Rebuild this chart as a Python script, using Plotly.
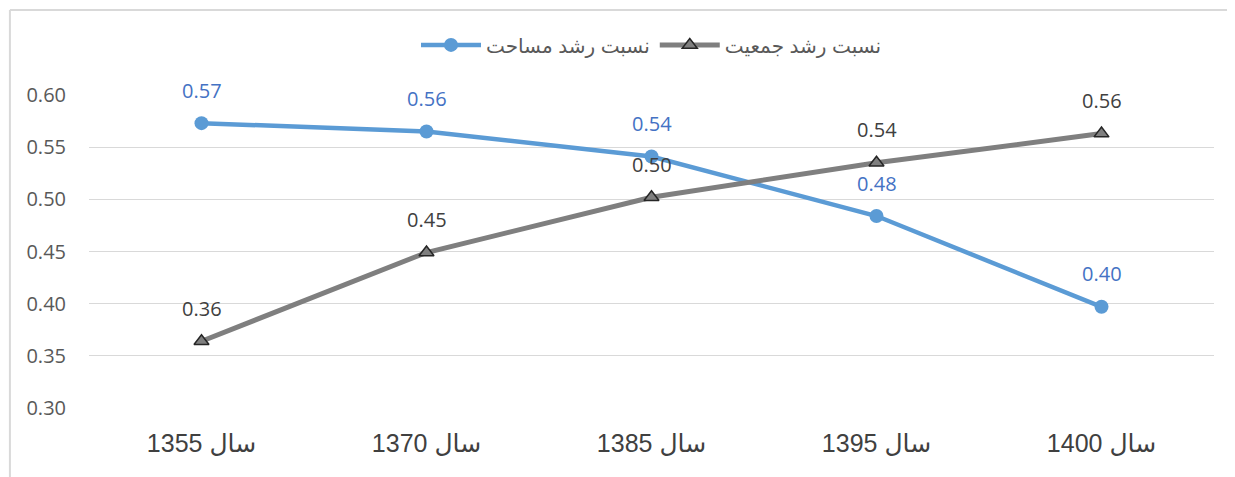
import plotly.graph_objects as go

categories = ["1355 سال", "1370 سال", "1385 سال", "1395 سال", "1400 سال"]
area_ratio = [0.573, 0.565, 0.541, 0.484, 0.397]
area_labels = ["0.57", "0.56", "0.54", "0.48", "0.40"]
pop_ratio = [0.364, 0.449, 0.502, 0.535, 0.563]
pop_labels = ["0.36", "0.45", "0.50", "0.54", "0.56"]
series_names = ["نسبت رشد مساحت", "نسبت رشد جمعیت"]
y_ticks = [0.30, 0.35, 0.40, 0.45, 0.50, 0.55, 0.60]

BLUE = "#5B9BD5"
GRAY = "#7F7F7F"

fig = go.Figure()
fig.add_trace(go.Scatter(
    x=categories, y=area_ratio, name=series_names[0], mode="lines+markers",
    line=dict(color=BLUE, width=4.5),
    marker=dict(symbol="circle", size=14, color=BLUE),
    cliponaxis=False,
))
fig.add_trace(go.Scatter(
    x=categories, y=pop_ratio, name=series_names[1], mode="lines+markers",
    line=dict(color=GRAY, width=5),
    marker=dict(symbol="triangle-up", size=13, color="#7F7F7F",
                line=dict(color="#262626", width=1.5)),
    cliponaxis=False,
))

annotations = []
for c, v, t in zip(categories, area_ratio, area_labels):
    annotations.append(dict(x=c, y=v, text=t, showarrow=False, yshift=33,
                            yanchor="middle",
                            font=dict(family="Open Sans", size=20, color="#4472C4")))
for c, v, t in zip(categories, pop_ratio, pop_labels):
    annotations.append(dict(x=c, y=v, text=t, showarrow=False, yshift=33,
                            yanchor="middle",
                            font=dict(family="Open Sans", size=20, color="#404040")))

fig.update_layout(
    width=1227, height=469,
    margin=dict(l=81, r=21, t=87, b=69),
    paper_bgcolor="white", plot_bgcolor="white",
    showlegend=True,
    legend=dict(orientation="h", x=0.5, xanchor="center", y=1.16, yanchor="middle",
                font=dict(family="Liberation Sans, DejaVu Sans", size=20, color="#595959"),
                itemwidth=60, bgcolor="rgba(0,0,0,0)"),
    annotations=annotations,
    shapes=[
        dict(type="line", xref="paper", yref="paper", x0=-0.0703, x1=1.1, y0=1.2716, y1=1.2716,
             line=dict(color="#D9D9D9", width=2)),
        dict(type="line", xref="paper", yref="paper", x0=-0.0703, x1=-0.0703, y0=1.2716, y1=-0.3,
             line=dict(color="#D9D9D9", width=2)),
    ],
)
fig.update_xaxes(
    type="category", range=[-0.5, 4.5], showgrid=False, zeroline=False,
    showline=False, ticks="",
    tickfont=dict(family="Liberation Sans, Arial, DejaVu Sans", size=25, color="#404040"),
    ticklabelstandoff=18,
)
fig.update_yaxes(
    range=[0.30, 0.60], tickvals=y_ticks, tickformat=".2f",
    showgrid=True, gridcolor="#D9D9D9", gridwidth=1.3, zeroline=False,
    showline=False, ticks="",
    tickfont=dict(family="Open Sans", size=20, color="#595959"),
    ticklabelstandoff=22,
)

fig.write_html("out.html")
